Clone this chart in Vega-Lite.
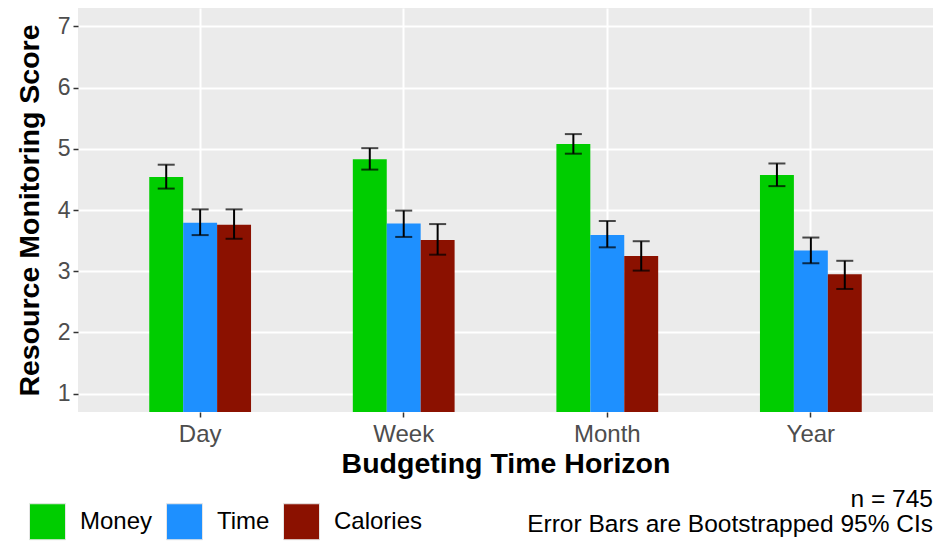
{
  "$schema": "https://vega.github.io/schema/vega-lite/v6.json",
  "width": 855,
  "height": 404,
  "autosize": {"type": "none"},
  "padding": {"left": 78, "top": 8, "right": 0, "bottom": 129},
  "background": "white",
  "title": {
    "text": ["n = 745", "Error Bars are Bootstrapped 95% CIs"],
    "orient": "bottom",
    "anchor": "end",
    "frame": "group",
    "baseline": "top",
    "offset": -54,
    "lineHeight": 24.5,
    "fontSize": 24.5,
    "fontWeight": "normal",
    "color": "black",
    "font": "Liberation Sans"
  },
  "config": {
    "font": "Liberation Sans",
    "view": {"fill": "#EBEBEB", "stroke": null}
  },
  "data": {
    "values": [
      {"horizon": "Day", "resource": "Money", "score": 4.54, "lo": 4.35, "hi": 4.74},
      {"horizon": "Day", "resource": "Time", "score": 3.79, "lo": 3.59, "hi": 4.01},
      {"horizon": "Day", "resource": "Calories", "score": 3.76, "lo": 3.53, "hi": 4.01},
      {"horizon": "Week", "resource": "Money", "score": 4.83, "lo": 4.66, "hi": 5.01},
      {"horizon": "Week", "resource": "Time", "score": 3.78, "lo": 3.56, "hi": 3.99},
      {"horizon": "Week", "resource": "Calories", "score": 3.51, "lo": 3.27, "hi": 3.77},
      {"horizon": "Month", "resource": "Money", "score": 5.08, "lo": 4.92, "hi": 5.24},
      {"horizon": "Month", "resource": "Time", "score": 3.59, "lo": 3.39, "hi": 3.82},
      {"horizon": "Month", "resource": "Calories", "score": 3.25, "lo": 3.01, "hi": 3.49},
      {"horizon": "Year", "resource": "Money", "score": 4.57, "lo": 4.39, "hi": 4.76},
      {"horizon": "Year", "resource": "Time", "score": 3.34, "lo": 3.13, "hi": 3.55},
      {"horizon": "Year", "resource": "Calories", "score": 2.95, "lo": 2.71, "hi": 3.17}
    ]
  },
  "encoding": {
    "x": {
      "field": "horizon",
      "type": "nominal",
      "sort": ["Day", "Week", "Month", "Year"],
      "scale": {"paddingInner": 0.5, "paddingOuter": 0.35},
      "axis": {
        "title": "Budgeting Time Horizon",
        "titleFontSize": 28.5,
        "titleFontWeight": "bold",
        "titleColor": "black",
        "titleY": 60,
        "titleBaseline": "alphabetic",
        "labelAngle": 0,
        "labelFontSize": 24,
        "labelColor": "#4D4D4D",
        "labelPadding": 5,
        "domain": false,
        "tickColor": "#333333",
        "tickSize": 5,
        "tickWidth": 1.5,
        "bandPosition": 0.5,
        "grid": true,
        "gridColor": "white",
        "gridWidth": 2
      }
    },
    "xOffset": {
      "field": "resource",
      "type": "nominal",
      "sort": ["Money", "Time", "Calories"],
      "scale": {"paddingInner": 0, "paddingOuter": 0}
    }
  },
  "layer": [
    {
      "mark": {"type": "bar", "clip": true},
      "encoding": {
        "y": {
          "field": "score",
          "type": "quantitative",
          "scale": {"domain": [0.7, 7.3], "nice": false, "zero": false},
          "axis": {
            "title": "Resource Monitoring Score",
            "titleFontSize": 28.5,
            "titleFontWeight": "bold",
            "titleColor": "black",
            "titleX": -34,
            "values": [1, 1.5, 2, 2.5, 3, 3.5, 4, 4.5, 5, 5.5, 6, 6.5, 7],
            "format": "d",
            "labelExpr": "datum.value % 1 === 0 ? datum.label : ''",
            "labelFontSize": 23,
            "labelColor": "#4D4D4D",
            "labelPadding": 3,
            "domain": false,
            "tickColor": "#333333",
            "tickSize": 5,
            "tickWidth": 1.5,
            "tickOpacity": {"condition": {"test": "datum.value % 1 === 0", "value": 1}, "value": 0},
            "grid": true,
            "gridColor": "white",
            "gridWidth": {"condition": {"test": "datum.value % 1 === 0", "value": 2}, "value": 1}
          }
        },
        "color": {
          "field": "resource",
          "type": "nominal",
          "sort": ["Money", "Time", "Calories"],
          "scale": {"domain": ["Money", "Time", "Calories"], "range": ["#00CD00", "#1E90FF", "#8B1100"]},
          "legend": {
            "title": null,
            "orient": "none",
            "direction": "horizontal",
            "legendX": -49,
            "legendY": 495,
            "padding": 0,
            "symbolType": "square",
            "symbolSize": 1296,
            "symbolStrokeColor": "#E5E5E5",
            "symbolStrokeWidth": 1,
            "symbolOpacity": 1,
            "labelFontSize": 24,
            "labelColor": "black",
            "labelOffset": 14,
            "columnPadding": 11
          }
        }
      }
    },
    {
      "mark": {"type": "rule", "color": "black", "strokeWidth": 2},
      "encoding": {
        "y": {"field": "lo", "type": "quantitative"},
        "y2": {"field": "hi"}
      }
    },
    {
      "mark": {"type": "tick", "color": "black", "thickness": 2, "size": 17},
      "encoding": {
        "y": {"field": "lo", "type": "quantitative"}
      }
    },
    {
      "mark": {"type": "tick", "color": "black", "thickness": 2, "size": 17},
      "encoding": {
        "y": {"field": "hi", "type": "quantitative"}
      }
    }
  ]
}
